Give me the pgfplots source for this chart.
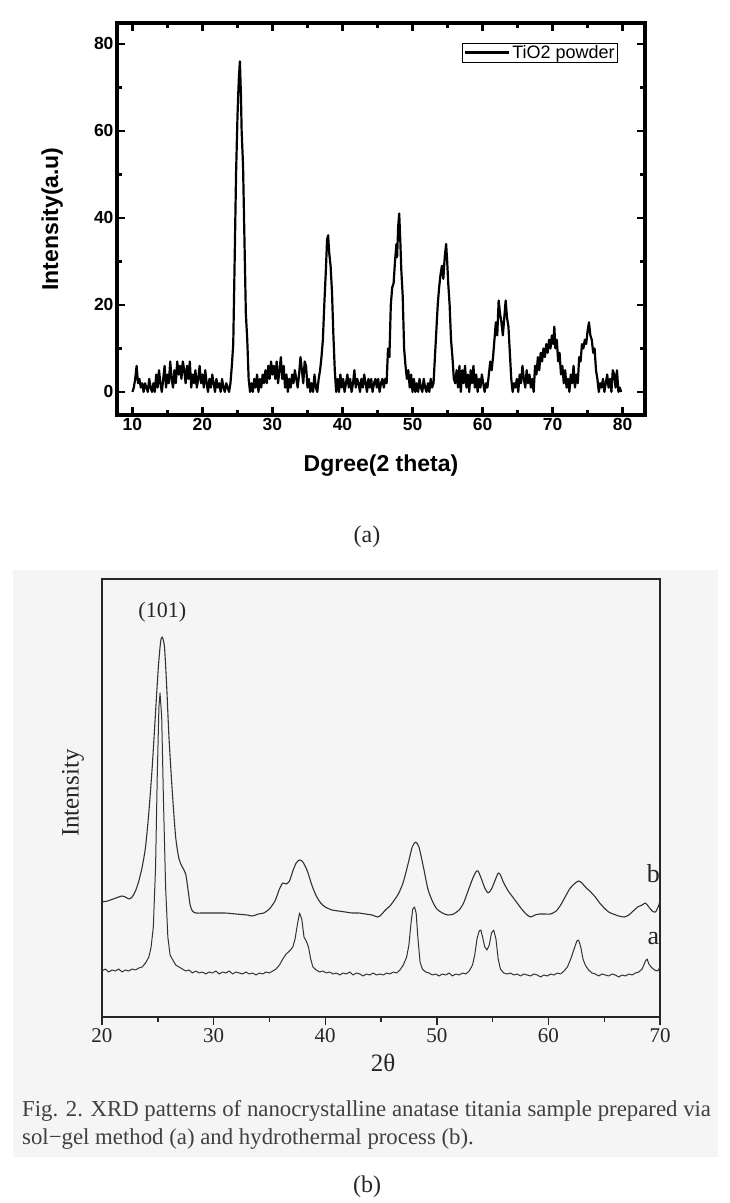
\documentclass[border=0pt]{standalone}
\usepackage{fontspec}
\setmainfont{Liberation Serif}
\newfontfamily\arialf{Liberation Sans}
\usepackage{pgfplots}
\pgfplotsset{compat=1.18}
\definecolor{scan}{RGB}{50,50,50}
\definecolor{panelbg}{RGB}{245,245,245}

% (a) TiO2 powder pattern
\pgfplotstableread{
x y
10.0 0
10.2 1
10.4 3
10.6 6
10.8 2
11.0 3
11.2 1
11.4 2
11.6 0
11.8 2
12.0 1
12.2 0
12.4 3
12.6 1
12.8 0
13.0 2
13.2 0
13.4 4
13.6 1
13.8 5
14.0 2
14.2 0
14.4 3
14.6 6
14.8 1
15.0 4
15.2 2
15.4 7
15.6 3
15.8 1
16.0 5
16.2 2
16.4 7
16.6 4
16.8 6
17.0 3
17.2 7
17.4 5
17.6 2
17.8 6
18.0 3
18.2 7
18.4 1
18.6 4
18.8 2
19.0 5
19.2 1
19.4 3
19.6 6
19.8 2
20.0 4
20.2 1
20.4 5
20.6 2
20.8 0
21.0 3
21.2 1
21.4 4
21.6 2
21.8 0
22.0 3
22.2 1
22.4 2
22.6 0
22.8 3
23.0 1
23.2 0
23.4 2
23.6 1
23.8 0
24.0 2
24.2 6
24.4 11
24.6 30
24.8 50
25.0 63
25.1 68
25.2 72
25.35 76
25.5 68
25.6 60
25.8 52
26.0 35
26.2 18
26.4 12
26.6 3
26.8 0
27.0 2
27.2 0
27.4 3
27.6 1
27.8 4
28.0 0
28.2 3
28.4 1
28.6 4
28.8 2
29.0 5
29.2 2
29.4 6
29.6 3
29.8 7
30.0 4
30.2 6
30.4 3
30.6 7
30.8 2
31.0 5
31.2 8
31.4 3
31.6 6
31.8 1
32.0 4
32.2 0
32.4 3
32.6 1
32.8 4
33.0 2
33.2 5
33.4 3
33.6 1
33.8 4
34.0 8
34.2 5
34.4 2
34.6 7
34.8 6
35.0 1
35.2 3
35.4 0
35.6 2
35.8 0
36.0 4
36.2 1
36.4 0
36.6 3
36.8 5
37.0 8
37.2 12
37.4 20
37.6 27
37.8 35
37.95 36
38.1 32
38.3 29
38.5 23
38.7 13
38.9 5
39.1 0
39.3 3
39.5 0
39.7 4
39.9 1
40.1 3
40.3 0
40.5 2
40.7 4
40.9 1
41.1 3
41.3 0
41.5 2
41.7 5
41.9 1
42.1 3
42.3 2
42.5 0
42.7 3
42.9 1
43.1 4
43.3 2
43.5 0
43.7 3
43.9 1
44.1 3
44.3 0
44.5 2
44.7 3
44.9 1
45.1 3
45.3 0
45.5 2
45.7 3
45.9 1
46.1 3
46.3 2
46.5 10
46.7 8
46.9 20
47.1 24
47.3 25
47.5 30
47.7 34
47.8 31
47.95 38
48.1 41
48.25 35
48.4 28
48.6 22
48.8 10
49.0 6
49.2 3
49.4 5
49.6 1
49.8 4
50.0 0
50.2 3
50.4 0
50.6 2
50.8 0
51.0 3
51.2 1
51.4 0
51.6 3
51.8 1
52.0 0
52.2 2
52.4 0
52.6 3
52.8 1
53.0 2
53.2 8
53.4 14
53.6 20
53.8 24
54.0 27
54.2 29
54.4 26
54.6 31
54.8 34
54.95 30
55.1 25
55.3 20
55.5 12
55.7 8
55.9 3
56.1 2
56.3 5
56.5 1
56.7 6
56.9 0
57.1 5
57.3 2
57.5 6
57.7 1
57.9 4
58.1 0
58.3 5
58.5 2
58.7 6
58.9 1
59.1 4
59.3 0
59.5 3
59.7 1
59.9 4
60.1 2
60.3 0
60.5 2
60.7 1
60.9 4
61.1 7
61.3 5
61.5 8
61.7 12
61.9 16
62.1 13
62.3 21
62.5 18
62.7 16
62.9 13
63.1 17
63.3 21
63.5 17
63.7 15
63.9 9
64.1 3
64.3 0
64.5 2
64.7 1
64.9 3
65.1 0
65.3 4
65.5 2
65.7 6
65.9 3
66.1 1
66.3 5
66.5 2
66.7 4
66.9 1
67.1 3
67.3 0
67.5 6
67.7 4
67.9 8
68.1 5
68.3 9
68.5 7
68.7 10
68.9 8
69.1 11
69.3 9
69.5 12
69.7 10
69.9 13
70.1 11
70.25 15
70.4 10
70.6 12
70.8 7
71.0 9
71.2 4
71.4 6
71.6 2
71.8 5
72.0 1
72.2 3
72.4 0
72.6 4
72.8 2
73.0 6
73.2 1
73.4 4
73.6 2
73.8 8
74.0 7
74.2 11
74.4 10
74.6 12
74.8 11
75.0 14
75.2 16
75.4 13
75.6 12
75.8 9
76.0 10
76.2 5
76.4 3
76.6 0
76.8 2
77.0 1
77.2 3
77.4 0
77.6 2
77.8 4
78.0 1
78.2 3
78.4 0
78.6 5
78.8 4
79.0 1
79.2 5
79.4 0
79.6 1
79.8 0
}\powder

% (b) sol-gel sample, curve a (arbitrary units, offset)
\pgfplotstableread{
x y
20.0 46
20.3 48
20.6 45
20.9 47
21.2 46
21.5 48
21.8 45
22.1 47
22.4 46
22.7 48
23.0 47
23.3 49
23.6 50
23.9 54
24.2 60
24.4 70
24.6 90
24.8 150
24.95 240
25.1 310
25.2 324
25.35 300
25.5 220
25.7 130
25.9 80
26.1 62
26.3 58
26.6 52
26.9 50
27.2 48
27.5 46
27.8 47
28.1 44
28.4 46
28.7 44
29.0 45
29.3 43
29.6 45
29.9 44
30.2 46
30.5 43
30.8 45
31.1 44
31.4 46
31.7 43
32.0 45
32.3 44
32.6 43
32.9 45
33.2 43
33.5 44
33.8 42
34.1 44
34.4 43
34.7 45
35.0 44
35.3 46
35.6 48
35.9 52
36.2 58
36.5 63
36.8 66
37.1 70
37.3 78
37.5 92
37.7 104
37.9 98
38.1 80
38.3 76
38.5 70
38.7 58
38.9 50
39.2 47
39.5 45
39.8 46
40.1 44
40.4 45
40.7 43
41.0 44
41.3 42
41.6 44
41.9 43
42.2 45
42.5 42
42.8 44
43.1 43
43.4 41
43.7 43
44.0 42
44.3 44
44.6 42
44.9 43
45.2 42
45.5 44
45.8 43
46.1 45
46.4 44
46.7 47
47.0 52
47.3 60
47.5 72
47.7 95
47.85 108
48.0 110
48.15 104
48.3 80
48.5 55
48.7 48
49.0 45
49.3 44
49.6 42
49.9 43
50.2 41
50.5 43
50.8 42
51.1 44
51.4 41
51.7 43
52.0 42
52.3 44
52.6 43
52.9 46
53.2 52
53.4 62
53.6 78
53.8 86
53.95 87
54.1 80
54.3 70
54.5 67
54.7 72
54.9 84
55.1 87
55.3 78
55.5 58
55.7 48
56.0 44
56.3 43
56.6 44
56.9 42
57.2 43
57.5 41
57.8 43
58.1 42
58.4 41
58.7 43
59.0 42
59.3 40
59.6 42
59.9 41
60.2 43
60.5 42
60.8 44
61.1 43
61.4 46
61.7 50
62.0 58
62.3 68
62.55 76
62.7 77
62.9 70
63.1 58
63.3 52
63.6 47
63.9 44
64.2 43
64.5 41
64.8 43
65.1 42
65.4 41
65.7 43
66.0 42
66.3 40
66.6 42
66.9 41
67.2 43
67.5 42
67.8 44
68.1 45
68.4 48
68.7 56
68.85 58
69.0 53
69.2 50
69.5 47
69.8 46
70.0 50
}\solgel

% (b) hydrothermal sample, curve b
\pgfplotstableread{
x y
20.0 115
20.5 116
21.0 118
21.5 120
21.8 121
22.1 120
22.4 118
22.7 120
23.0 126
23.3 136
23.6 150
23.9 170
24.2 205
24.5 250
24.8 305
25.05 350
25.25 375
25.4 380
25.6 370
25.8 330
26.0 280
26.3 225
26.6 180
26.9 158
27.2 150
27.5 143
27.7 128
27.9 112
28.1 106
28.4 104
29.0 104
30.0 104
31.0 104
32.0 103
33.0 102
33.5 101
34.0 103
34.5 104
35.0 108
35.5 116
35.9 128
36.2 134
36.5 133
36.8 136
37.1 146
37.4 154
37.7 157
38.0 155
38.4 146
38.8 132
39.2 121
39.6 114
40.0 110
40.6 107
41.2 106
41.8 105
42.4 104
43.0 104
43.6 103
44.2 102
44.7 100
45.0 102
45.4 107
45.8 111
46.2 117
46.6 124
47.0 135
47.4 152
47.8 170
48.1 175
48.4 170
48.8 150
49.2 128
49.6 116
50.0 108
50.5 104
51.0 102
51.5 103
52.0 107
52.4 114
52.8 126
53.2 138
53.5 145
53.7 146
54.0 138
54.3 129
54.6 124
54.9 128
55.2 136
55.5 144
55.7 142
56.0 134
56.4 126
56.8 120
57.2 114
57.6 108
58.0 103
58.4 100
58.8 102
59.2 103
59.7 103
60.2 103
60.7 106
61.1 112
61.5 120
61.9 128
62.3 133
62.7 136
63.0 134
63.4 129
63.8 125
64.2 120
64.6 114
65.0 109
65.4 105
65.8 103
66.3 101
66.8 100
67.2 102
67.6 106
68.0 110
68.4 112
68.7 114
69.0 110
69.3 106
69.6 105
69.9 112
70.0 117
}\hydro

\begin{document}
\begin{tikzpicture}
\path[use as bounding box] (0pt,0pt) rectangle (730pt,1203pt);
\fill[panelbg] (13pt,46pt) rectangle (718pt,633pt);

% ---- panel (a)
\begin{axis}[
  at={(117pt,788pt)}, anchor=south west,
  scale only axis, width=528pt, height=392pt,
  xmin=7.8, xmax=83.2, ymin=-5.3, ymax=84.8,
  xtick={10,20,...,80}, ytick={0,20,...,80},
  minor x tick num=1, minor y tick num=1,
  tick align=inside,
  major tick length=8pt, minor tick length=5pt,
  every tick/.style={black, line width=2.6pt},
  axis line style={line width=3.6pt},
  /pgf/number format/assume math mode=true,
  tick label style={font=\arialf\bfseries\fontsize{17.5}{20}\selectfont},
  xlabel={Dgree(2 theta)},
  ylabel={Intensity(a.u)},
  every axis x label/.style={at={(axis description cs:0.5,-0.128)}, anchor=center,
    font=\arialf\bfseries\fontsize{23}{26}\selectfont},
  every axis y label/.style={at={(axis description cs:-0.123,0.5)}, rotate=90, anchor=center,
    font=\arialf\bfseries\fontsize{23}{26}\selectfont},
  legend style={at={(axis description cs:0.949,0.949)}, anchor=north east,
    draw=black, line width=0.9pt, inner xsep=1pt, inner ysep=0pt,
    font=\arialf\fontsize{18}{20}\selectfont},
  legend image code/.code={\draw[#1, line width=2.4pt] (0pt,0pt) -- (44pt,0pt);},
]
\addplot[black, line width=2.2pt, line join=round] table[x=x, y=y] {\powder};
\addlegendentry{TiO2 powder}
\end{axis}

% ---- panel (b)
\begin{axis}[
  at={(102pt,186pt)}, anchor=south west,
  scale only axis, width=558pt, height=438pt,
  xmin=20, xmax=70, ymin=0, ymax=438,
  xtick={20,30,...,70}, ytick=\empty,
  minor x tick num=1,
  xtick pos=left,
  tick align=outside,
  major tick length=8pt, minor tick length=5pt,
  every tick/.style={black!85, line width=1.4pt},
  axis line style={black!85, line width=1.5pt},
  /pgf/number format/assume math mode=true,
  tick label style={font=\fontsize{21}{24}\selectfont, text=black!85},
  xlabel={2θ},
  ylabel={Intensity},
  every axis x label/.style={at={(axis description cs:0.504,-0.105)}, anchor=center,
    font=\fontsize{25}{28}\selectfont, text=black!85},
  every axis y label/.style={at={(axis description cs:-0.052,0.511)}, rotate=90, anchor=center,
    font=\fontsize{25}{28}\selectfont, text=black!85},
]
\addplot[scan, line width=1.1pt, line join=round, smooth, tension=0.4] table[x=x, y=y] {\hydro};
\addplot[scan, line width=1.0pt, line join=round] table[x=x, y=y] {\solgel};
\node[font=\fontsize{22}{24}\selectfont, text=black!85] at (axis cs:25.4,405) {(101)};
\node[font=\fontsize{26}{28}\selectfont, text=black!85] at (axis cs:69.4,143) {b};
\node[font=\fontsize{26}{28}\selectfont, text=black!85] at (axis cs:69.4,78) {a};
\end{axis}

% captions
\node[anchor=west, inner sep=0pt, text=black!75, font=\fontsize{22.8}{25}\selectfont] at (22pt,92pt)
  {Fig. 2. XRD patterns of nanocrystalline anatase titania sample prepared via};
\node[anchor=west, inner sep=0pt, text=black!75, font=\fontsize{22.8}{25}\selectfont] at (22pt,64pt)
  {sol−gel method (a) and hydrothermal process (b).};
\node[text=black!85, font=\fontsize{24}{26}\selectfont] at (367pt,666pt) {(a)};
\node[text=black!85, font=\fontsize{24}{26}\selectfont] at (367pt,16pt) {(b)};
\end{tikzpicture}
\end{document}
